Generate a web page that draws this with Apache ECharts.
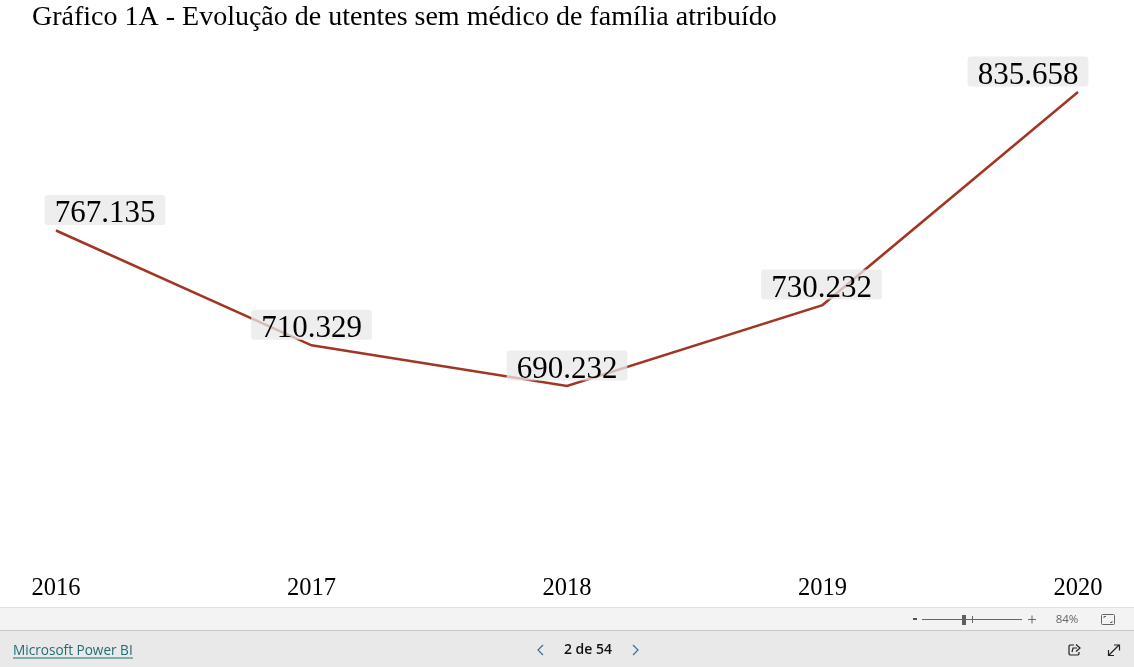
<!DOCTYPE html>
<html><head><meta charset="utf-8">
<style>html,body{margin:0;padding:0;background:#fff}#c{width:1134px;height:667px}</style>
<script src="https://cdn.jsdelivr.net/npm/echarts@6/dist/echarts.min.js"></script>
</head><body><div id="c"></div>
<script>
const titleText = 'Gráfico 1A - Evolução de utentes sem médico de família atribuído';
const years = ['2016','2017','2018','2019','2020'];
const utentes = [767135, 710329, 690232, 730232, 835658];
const serif = '"Liberation Serif","Times New Roman",serif';
const sans = '"Open Sans","Noto Sans",sans-serif';
const fmt = v => String(v).replace(/\B(?=(\d{3})+$)/g, '.');
const labelShift = {0: 49, 1: 0, 2: 0, 3: -1, 4: -50};

const seg = (x1,y1,x2,y2,color,w) => ({type:'line',silent:true,z:50,shape:{x1,y1,x2,y2},style:{stroke:color,lineWidth:w||1}});
const poly = (pts,color,w) => ({type:'polyline',silent:true,z:50,shape:{points:pts},style:{stroke:color,lineWidth:w||1,fill:null}});
const txt = (x,y,text,color,size,align,weight) => ({type:'text',silent:true,z:50,x,y,style:{text,fill:color,font:(weight||'normal')+' '+size+'px '+sans,textAlign:align||'left',textVerticalAlign:'middle'}});
const rect = (x,y,width,height,fill,stroke,r) => ({type:'rect',silent:true,z:40,shape:{x,y,width,height,r:r||0},style:{fill,stroke:stroke||null}});

const chrome = [
  rect(0,607,1134,23,'#f3f3f3'),
  rect(0,630,1134,37,'#e9e9e9'),
  rect(0,607,1134,1,'#e0e0e0'),
  rect(0,630,1134,1,'#c8c8c8'),
  seg(913,619,917,619,'#555',2),
  seg(922,619.5,1022,619.5,'#666',1),
  rect(962,615,4,10,'#5f5f5f'),
  seg(972.5,616,972.5,623,'#666',1),
  seg(1028,619.5,1036,619.5,'#666',1),
  seg(1032,615.5,1032,623.5,'#666',1),
  txt(1067,619.5,'84%','#666',11.5,'center'),
  rect(1101.5,614.5,13,10,'none','#666',1),
  poly([[1104,618],[1104,616.5],[1106,616.5]],'#666',1),
  poly([[1112,621],[1112,622.5],[1110,622.5]],'#666',1),
  txt(13,651.5,'Microsoft Power BI','#1f6d73',13.6,'left'),
  seg(13,658,133,658,'#1f6d73',1),
  poly([[543,645],[538,650],[543,655]],'#3a6d96',1.2),
  poly([[633,645],[638,650],[633,655]],'#3a6d96',1.2),
  txt(588,650,'2 de 54','#111',14,'center','600'),
  poly([[1074,645],[1070,645],[1069,646],[1069,654],[1070,655],[1078,655],[1079,654],[1079,652]],'#222',1.2),
  poly([[1072,652],[1073,648],[1077,648]],'#222',1.2),
  poly([[1076,644.5],[1080,648],[1076,651.5]],'#222',1.2),
  seg(1109,655,1119,645,'#222',1.2),
  poly([[1114,645],[1119.5,645],[1119.5,650.5]],'#222',1.2),
  poly([[1108.5,650],[1108.5,655.5],[1114,655.5]],'#222',1.2)
];

const chart = echarts.init(document.getElementById('c'), null, {renderer:'canvas'});
chart.setOption({
  animation:false,
  backgroundColor:'#fff',
  title:{text:titleText,left:32,top:4,padding:0,textStyle:{fontFamily:serif,fontSize:28,fontWeight:'normal',color:'#000'}},
  grid:{left:56,right:56,top:63,height:505.3,containLabel:false},
  xAxis:{type:'category',boundaryGap:false,data:years,
    axisLine:{show:false},axisTick:{show:false},splitLine:{show:false},
    axisLabel:{fontFamily:serif,fontSize:24.5,color:'#000',margin:8,hideOverlap:false,interval:0}},
  yAxis:{type:'value',min:600000,max:850000,show:false,splitLine:{show:false}},
  series:[{
    type:'line',
    symbol:'circle',symbolSize:1,showSymbol:true,showAllSymbol:true,
    itemStyle:{color:'#a33524',opacity:0},
    lineStyle:{color:'#a33524',width:2.5,join:'miter'},
    z:2,
    data:utentes.map((value,i)=>({value,label:{offset:[labelShift[i]||0,0]}})),
    label:{show:true,position:'top',distance:5,formatter:p=>fmt(p.value),
      fontFamily:serif,fontSize:31,color:'#000',lineHeight:22,opacity:1,
      backgroundColor:'rgba(232,232,232,0.75)',borderRadius:3,padding:[8,10,0,10]}
  }],
  graphic:chrome
});
</script></body></html>
